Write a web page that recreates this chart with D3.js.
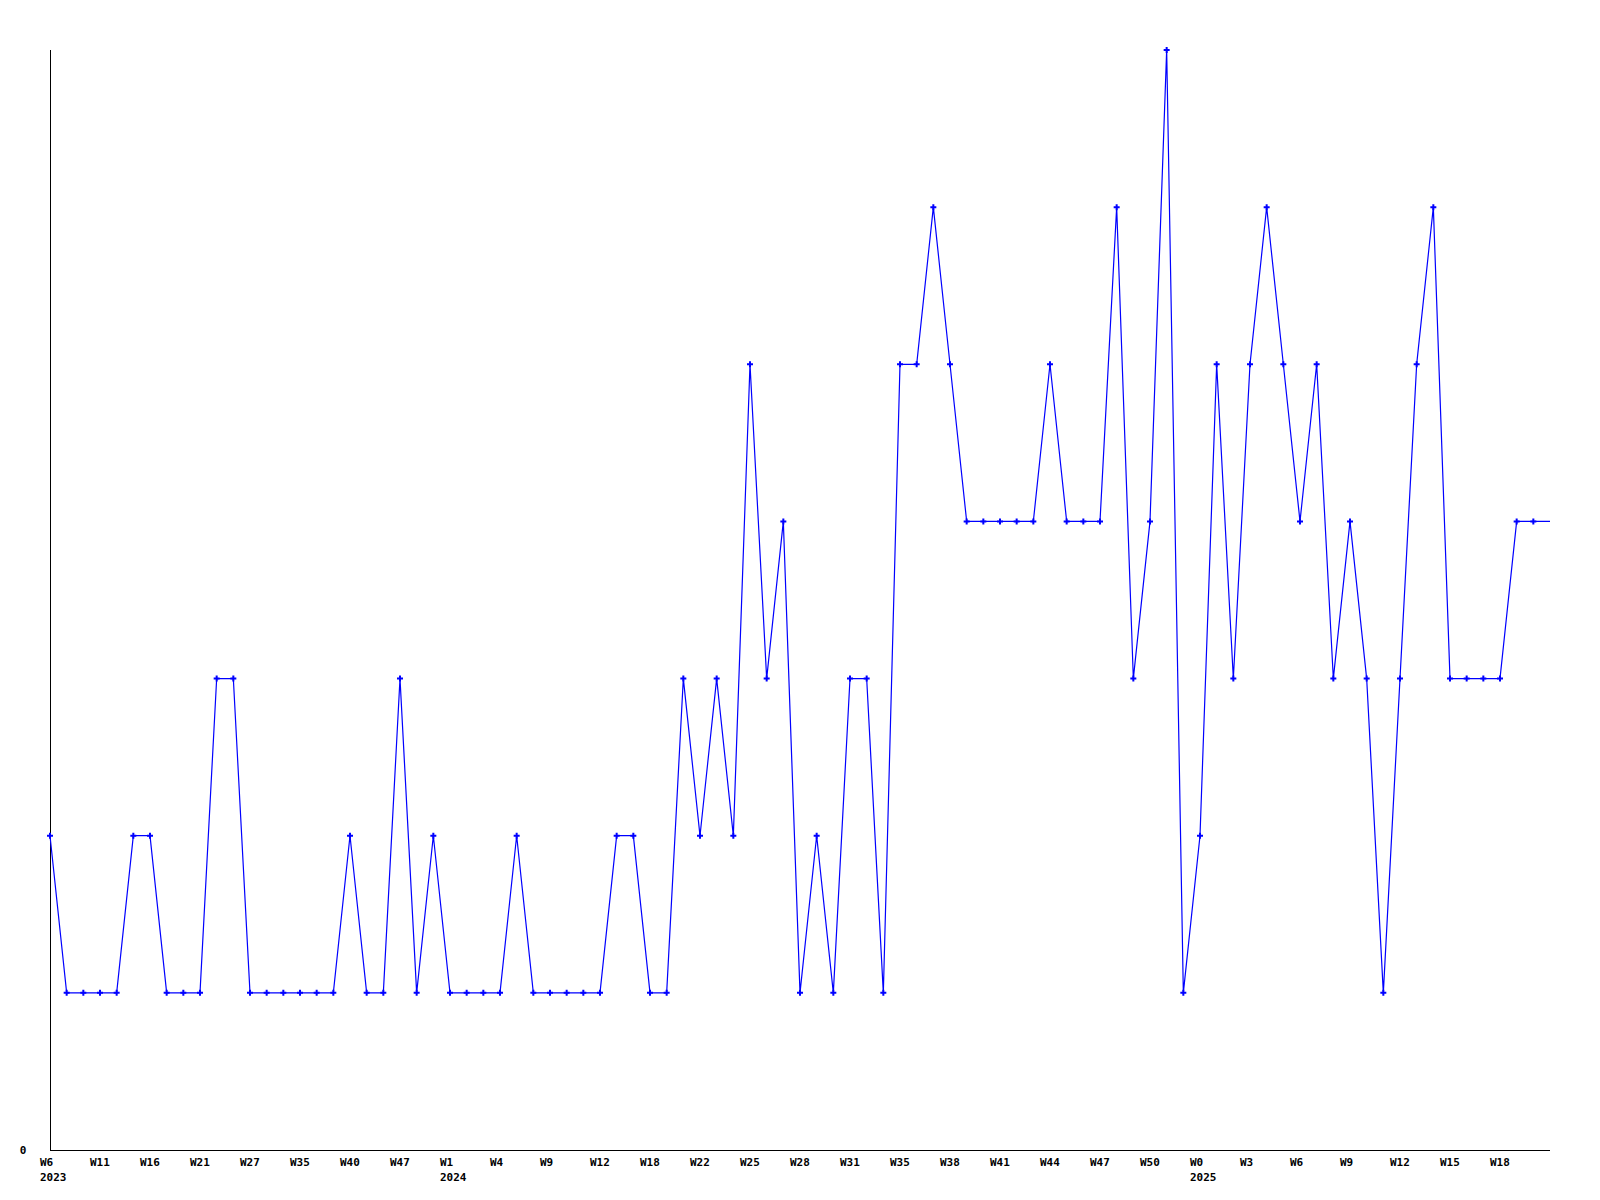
<!DOCTYPE html>
<html>
<head>
<meta charset="utf-8">
<script src="https://cdn.jsdelivr.net/npm/d3@7"></script>
<style>
  html, body { margin: 0; padding: 0; background: #fff; }
  svg { display: block; }
  text { font-family: "DejaVu Sans Mono", "Liberation Mono", monospace; font-weight: bold; font-size: 11px; fill: #000; }
</style>
</head>
<body>
<svg id="chart" width="1600" height="1200"></svg>
<script>
// Weekly values (index 0 = first week shown)
const values = [
  2,1,1,1,1,2,2,1,1,1,
  3,3,1,1,1,1,1,1,2,1,
  1,3,1,2,1,1,1,1,2,1,
  1,1,1,1,2,2,1,1,3,2,
  3,2,5,3,4,1,2,1,3,3,
  1,5,5,6,5,4,4,4,4,4,
  5,4,4,4,6,3,4,7,1,2,
  5,3,5,6,5,4,5,3,4,3,
  1,3,5,6,3,3,3,3,4,4,
  4
];
// Number of points that carry a marker (the last value only extends the line to the edge)
const markedCount = 90;

// X axis tick labels (one every tick slot) and year labels
const tickLabels = ["W6","W11","W16","W21","W27","W35","W40","W47","W1","W4",
                    "W9","W12","W18","W22","W25","W28","W31","W35","W38","W41",
                    "W44","W47","W50","W0","W3","W6","W9","W12","W15","W18"];
const yearLabels = [{slot: 0, text: "2023"}, {slot: 8, text: "2024"}, {slot: 23, text: "2025"}];
const yTickValues = [0];

(function () {
const svg = d3.select("#chart");
const mLeft = 50, mRight = 1550, mTop = 50, mBottom = 1150;

const x = d3.scaleLinear().domain([0, values.length - 1]).range([mLeft, mRight]);
const y = d3.scaleLinear().domain([0, 7]).range([mBottom, mTop]);
const slot = d3.scaleLinear().domain([0, 30]).range([mLeft, mRight]);

// axes lines
svg.append("line").attr("x1", mLeft + 0.5).attr("x2", mLeft + 0.5).attr("y1", mTop).attr("y2", mBottom + 0.5)
  .attr("stroke", "#000").attr("stroke-width", 1);
svg.append("line").attr("x1", mLeft).attr("x2", mRight).attr("y1", mBottom + 0.5).attr("y2", mBottom + 0.5)
  .attr("stroke", "#000").attr("stroke-width", 1);

// y labels
svg.selectAll("text.ylab").data(yTickValues).enter().append("text")
  .attr("class", "ylab")
  .attr("x", 23).attr("y", d => y(d) + 4)
  .attr("text-anchor", "middle")
  .text(d => d);

// x labels
svg.selectAll("text.xlab").data(tickLabels).enter().append("text")
  .attr("class", "xlab")
  .attr("x", (d, i) => slot(i) - 10)
  .attr("y", 1166)
  .text(d => d);
svg.selectAll("text.year").data(yearLabels).enter().append("text")
  .attr("class", "year")
  .attr("x", d => slot(d.slot) - 10)
  .attr("y", 1181)
  .text(d => d.text);

// line
const line = d3.line().x((d, i) => x(i)).y(d => y(d));
svg.append("path").datum(values)
  .attr("d", line)
  .attr("fill", "none")
  .attr("stroke", "#0000ff")
  .attr("stroke-width", 1.2);

// markers
const cross = d3.symbol().type(d3.symbolCross).size(20);
svg.selectAll("path.mk").data(values.slice(0, markedCount)).enter().append("path")
  .attr("class", "mk")
  .attr("transform", (d, i) => `translate(${x(i)},${y(d)})`)
  .attr("d", cross)
  .attr("fill", "#0000ff");
})();
</script>
</body>
</html>
